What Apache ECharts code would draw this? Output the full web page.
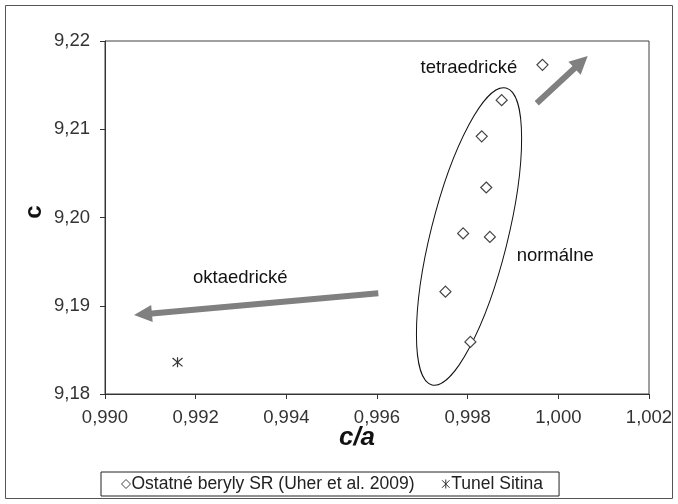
<!DOCTYPE html>
<html>
<head>
<meta charset="utf-8">
<script src="https://cdn.jsdelivr.net/npm/echarts@6/dist/echarts.min.js"></script>
<style>
html,body{margin:0;padding:0;background:#fff;}
#main{width:678px;height:504px;}
</style>
</head>
<body>
<div id="main"></div>
<script>
// ---- data ----
const seriesNames = ['Ostatné beryly SR (Uher et al. 2009)', 'Tunel Sitina'];
const berylX = [0.99965, 0.99875, 0.99831, 0.99841, 0.99790, 0.99849, 0.99751, 0.99806];
const berylY = [9.2173, 9.2133, 9.2092, 9.2034, 9.1982, 9.1978, 9.1916, 9.1859];
const sitinaX = [0.99160];
const sitinaY = [9.1836];
const xTicks = [0.990, 0.992, 0.994, 0.996, 0.998, 1.000, 1.002];
const yTicks = [9.18, 9.19, 9.20, 9.21, 9.22];
// annotations (data coordinates)
const annoTexts = ['tetraedrické', 'normálne', 'oktaedrické'];
const annoPos = [[0.99696, 9.2169], [0.99908, 9.1956], [0.99194, 9.1932]];
const arrowTetra = [[0.999523, 9.21294], [1.000648, 9.2183]];
const arrowOkta = [[0.996029, 9.19141], [0.990640, 9.18895]];
const ellipseCenter = [0.99803, 9.19785];

const font = 'Liberation Sans, Arial, sans-serif';
const chart = echarts.init(document.getElementById('main'));
const starPath = 'path://M0,0L10,10M10,0L0,10M5,-1L5,11';

chart.setOption({
  animation: false,
  backgroundColor: '#fff',
  grid: {left: 105, top: 41, width: 544, height: 353, show: true, borderColor: '#404040', borderWidth: 1},
  xAxis: {
    type: 'value', min: xTicks[0], max: xTicks[xTicks.length - 1], interval: 0.002,
    axisLine: {show: true, onZero: false, lineStyle: {color: '#333', width: 1}},
    axisTick: {show: true, length: 5, lineStyle: {color: '#333'}},
    splitLine: {show: false},
    axisLabel: {margin: 14, color: '#333', fontSize: 18.5, fontFamily: font,
      formatter: v => v.toFixed(3).replace('.', ',')}
  },
  yAxis: {
    type: 'value', min: yTicks[0], max: yTicks[yTicks.length - 1], interval: 0.01,
    axisLine: {show: true, onZero: false, lineStyle: {color: '#333', width: 1}},
    axisTick: {show: true, length: 5, lineStyle: {color: '#333'}},
    splitLine: {show: false},
    axisLabel: {margin: 15, color: '#333', fontSize: 18.5, fontFamily: font,
      formatter: v => v.toFixed(2).replace('.', ',')}
  },
  legend: {
    left: 101, top: 472, orient: 'horizontal',
    padding: [3, 16, 3, 20], itemGap: 27, itemWidth: 9, itemHeight: 9,
    borderColor: '#222', borderWidth: 1,
    textStyle: {fontSize: 17.5, fontFamily: font, color: '#222', padding: [0,0,0,-4]},
    data: [
      {name: seriesNames[0], icon: 'diamond', itemStyle: {color: '#fff', borderColor: '#444', borderWidth: 1}},
      {name: seriesNames[1], icon: starPath, itemStyle: {color: 'rgba(0,0,0,0)', borderColor: '#333', borderWidth: 1}}
    ]
  },
  series: [
    {
      name: seriesNames[0], type: 'scatter', symbol: 'diamond', symbolSize: 11,
      itemStyle: {color: '#fff', borderColor: '#444', borderWidth: 1.2, opacity: 1},
      data: berylX.map((x, i) => [x, berylY[i]]), z: 5
    },
    {
      name: seriesNames[1], type: 'scatter', symbol: starPath, symbolSize: [10, 10],
      itemStyle: {color: 'rgba(0,0,0,0)', borderColor: '#333', borderWidth: 1.2, opacity: 1},
      data: sitinaX.map((x, i) => [x, sitinaY[i]]), z: 5
    }
  ]
});

function px(p) { return chart.convertToPixel({gridIndex: 0}, p); }
function arrowPoly(a, b, sw, hl, hw) {
  const P0 = px(a), P1 = px(b);
  const dx = P1[0] - P0[0], dy = P1[1] - P0[1];
  const L = Math.sqrt(dx*dx + dy*dy);
  const ux = dx / L, uy = dy / L, nx = -uy, ny = ux;
  const B = [P1[0] - ux*hl, P1[1] - uy*hl];
  return [
    [P0[0] + nx*sw, P0[1] + ny*sw],
    [B[0] + nx*sw, B[1] + ny*sw],
    [B[0] + nx*hw, B[1] + ny*hw],
    P1,
    [B[0] - nx*hw, B[1] - ny*hw],
    [B[0] - nx*sw, B[1] - ny*sw],
    [P0[0] - nx*sw, P0[1] - ny*sw]
  ];
}
const ec = px(ellipseCenter);
const graphics = [
  {type: 'rect', shape: {x: 5.5, y: 5.5, width: 667, height: 493}, style: {fill: null, stroke: '#555', lineWidth: 1}, z: 0, silent: true},
  {type: 'ellipse', x: ec[0], y: ec[1], rotation: -14 * Math.PI / 180,
    shape: {cx: 0, cy: 0, rx: 38.5, ry: 153}, style: {fill: null, stroke: '#111', lineWidth: 1}, z: 3},
  {type: 'polygon', shape: {points: arrowPoly(arrowTetra[0], arrowTetra[1], 3, 18, 9)}, style: {fill: '#808080'}, z: 3},
  {type: 'polygon', shape: {points: arrowPoly(arrowOkta[0], arrowOkta[1], 3, 18, 8.5)}, style: {fill: '#808080'}, z: 3},
  {type: 'text', x: 357, y: 438, style: {text: 'c/a', font: 'italic bold 26px ' + font, fill: '#111', textAlign: 'center', textVerticalAlign: 'middle'}},
  {type: 'text', x: 34, y: 212, rotation: Math.PI / 2, style: {text: 'c', font: 'bold 24px ' + font, fill: '#111', textAlign: 'center', textVerticalAlign: 'middle'}}
];
annoTexts.forEach((t, i) => {
  const p = px(annoPos[i]);
  graphics.push({type: 'text', x: p[0], y: p[1], style: {text: t, font: '18.5px ' + font, fill: '#111', textAlign: 'left', textVerticalAlign: 'middle'}, z: 4});
});
chart.setOption({graphic: graphics});
</script>
</body>
</html>
